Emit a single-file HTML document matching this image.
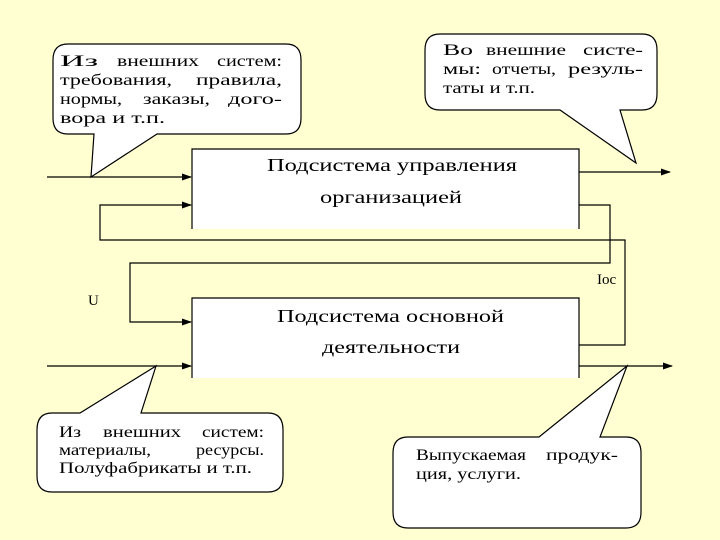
<!DOCTYPE html>
<html><head><meta charset="utf-8"><style>
html,body{margin:0;padding:0;background:#FFFFD2;}
svg{display:block}
text{font-family:"Liberation Serif",serif;fill:#000;}
</style></head><body>
<svg width="720" height="540" viewBox="0 0 720 540" xmlns="http://www.w3.org/2000/svg">
<defs><marker id="a" markerWidth="10" markerHeight="8" refX="9" refY="4" orient="auto" markerUnits="userSpaceOnUse"><path d="M0,0.5 L10,4 L0,7.5 z" fill="#000"/></marker></defs>
<rect width="720" height="540" fill="#FFFFD2"/>
<g stroke="#000" stroke-width="1.2" fill="none">
<path d="M192,229 V149 H579 V229" fill="#fff"/>
<path d="M192,378 V298 H579 V378" fill="#fff"/>
<line x1="47" y1="177" x2="191" y2="177" marker-end="url(#a)"/>
<line x1="579" y1="172" x2="670" y2="172" marker-end="url(#a)"/>
<polyline points="579,345 625,345 625,240 100,240 100,205 191,205" marker-end="url(#a)"/>
<polyline points="579,205 610,205 610,263 130,263 130,322 191,322" marker-end="url(#a)"/>
<line x1="47" y1="366" x2="191" y2="366" marker-end="url(#a)"/>
<line x1="579" y1="366" x2="672" y2="366" marker-end="url(#a)"/>
<path d="M68,44 H286 Q301,44 301,60 V118 Q301,134 286,134 H157 L91,177 L94,134 H68 Q53,134 53,118 V60 Q53,44 68,44 Z" fill="#fff"/>
<path d="M440,34 H642 Q657,34 657,50 V94 Q657,110 642,110 H620 L636,163 L560,110 H440 Q425,110 425,94 V50 Q425,34 440,34 Z" fill="#fff"/>
<path d="M52,413 H80 L156,366 L141,413 H268 Q283,413 283,430 V476 Q283,492 268,492 H52 Q37,492 37,476 V430 Q37,413 52,413 Z" fill="#fff"/>
<path d="M408,437 H539 L627,366 L600,437 H626 Q641,437 641,453 V512 Q641,528 626,528 H408 Q393,528 393,512 V453 Q393,437 408,437 Z" fill="#fff"/>
</g>
<g font-size="16" lengthAdjust="spacingAndGlyphs">
<text x="60" y="66" textLength="38" lengthAdjust="spacingAndGlyphs">Из</text>
<text x="117" y="66" textLength="82" lengthAdjust="spacingAndGlyphs">внешних</text>
<text x="217" y="66" textLength="65" lengthAdjust="spacingAndGlyphs">систем:</text>
<text x="60" y="85" textLength="112" lengthAdjust="spacingAndGlyphs">требования,</text>
<text x="196" y="85" textLength="86" lengthAdjust="spacingAndGlyphs">правила,</text>
<text x="60" y="104" textLength="62" lengthAdjust="spacingAndGlyphs">нормы,</text>
<text x="143" y="104" textLength="67" lengthAdjust="spacingAndGlyphs">заказы,</text>
<text x="228" y="104" textLength="54" lengthAdjust="spacingAndGlyphs">дого-</text>
<text x="60" y="123" textLength="105" lengthAdjust="spacingAndGlyphs">вора и т.п.</text>

<text x="443" y="55" textLength="30" lengthAdjust="spacingAndGlyphs">Во</text>
<text x="486" y="55" textLength="80" lengthAdjust="spacingAndGlyphs">внешние</text>
<text x="583" y="55" textLength="60" lengthAdjust="spacingAndGlyphs">систе-</text>
<text x="443" y="74" textLength="38" lengthAdjust="spacingAndGlyphs">мы:</text>
<text x="492" y="74" textLength="64" lengthAdjust="spacingAndGlyphs">отчеты,</text>
<text x="568" y="74" textLength="75" lengthAdjust="spacingAndGlyphs">резуль-</text>
<text x="443" y="93" textLength="92" lengthAdjust="spacingAndGlyphs">таты и т.п.</text>

<text x="59" y="437" textLength="22" lengthAdjust="spacingAndGlyphs">Из</text>
<text x="103" y="437" textLength="78" lengthAdjust="spacingAndGlyphs">внешних</text>
<text x="202" y="437" textLength="62" lengthAdjust="spacingAndGlyphs">систем:</text>
<text x="59" y="455" textLength="92" lengthAdjust="spacingAndGlyphs">материалы,</text>
<text x="196" y="455" textLength="68" lengthAdjust="spacingAndGlyphs">ресурсы.</text>
<text x="59" y="473" textLength="193" lengthAdjust="spacingAndGlyphs">Полуфабрикаты и т.п.</text>

<text x="416" y="460" textLength="110" lengthAdjust="spacingAndGlyphs">Выпускаемая</text>
<text x="546" y="460" textLength="72" lengthAdjust="spacingAndGlyphs">продук-</text>
<text x="416" y="479" textLength="105" lengthAdjust="spacingAndGlyphs">ция, услуги.</text>
</g>
<g font-size="18">
<text x="267" y="171" textLength="250" lengthAdjust="spacingAndGlyphs">Подсистема управления</text>
<text x="320" y="203" textLength="142" lengthAdjust="spacingAndGlyphs">организацией</text>
<text x="277" y="322" textLength="227" lengthAdjust="spacingAndGlyphs">Подсистема основной</text>
<text x="322" y="353" textLength="138" lengthAdjust="spacingAndGlyphs">деятельности</text>
</g>
<text x="88" y="305" font-size="15" font-family="Liberation Sans">U</text>
<text x="597" y="284" font-size="15">Ioc</text>
</svg>
</body></html>
